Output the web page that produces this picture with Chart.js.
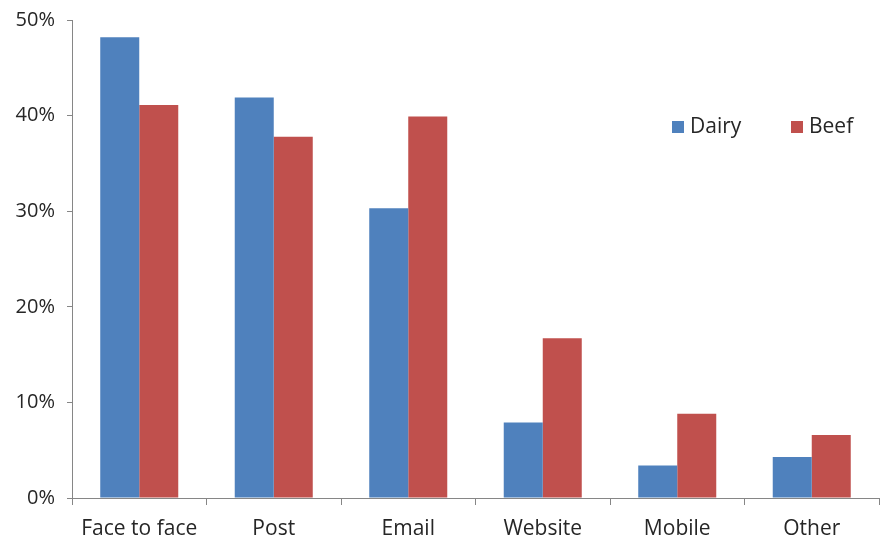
<!DOCTYPE html>
<html>
<head>
<meta charset="utf-8">
<script src="https://cdn.jsdelivr.net/npm/chart.js@4"></script>
<style>
  html, body { margin: 0; padding: 0; background: #fff; }
  #wrap { width: 883px; height: 538px; }
</style>
</head>
<body>
<div id="wrap"><canvas id="channelChart"></canvas></div>
<script>
const categories = ['Face to face', 'Post', 'Email', 'Website', 'Mobile', 'Other'];
const dairyValues = [48.2, 41.9, 30.3, 7.9, 3.4, 4.3];
const beefValues = [41.1, 37.8, 39.9, 16.7, 8.8, 6.6];
const yTicks = [0, 10, 20, 30, 40, 50];

const axisColor = '#868686';
const textColor = '#262626';
const fontFamily = '"Open Sans", sans-serif';

// legend drawn inside the plot, top right
const innerLegend = {
    id: 'innerLegend',
    afterDraw(chart) {
        const ctx = chart.ctx;
        const area = chart.chartArea;
        const items = chart.data.datasets;
        const xs = [area.left + 600, area.left + 719];
        const y = area.top + 107;
        ctx.save();
        ctx.font = '21px ' + fontFamily;
        ctx.textBaseline = 'middle';
        items.forEach((ds, i) => {
            ctx.fillStyle = ds.backgroundColor;
            ctx.fillRect(xs[i], y - 6, 12, 12);
            ctx.fillStyle = textColor;
            ctx.fillText(ds.label, xs[i] + 18, y);
        });
        ctx.restore();
    }
};

const ctx = document.getElementById('channelChart').getContext('2d');
new Chart(ctx, {
    type: 'bar',
    data: {
        labels: categories,
        datasets: [
            { label: 'Dairy', data: dairyValues, backgroundColor: '#4F81BD' },
            { label: 'Beef', data: beefValues, backgroundColor: '#C0504D' }
        ]
    },
    options: {
        responsive: true,
        maintainAspectRatio: false,
        animation: false,
        layout: { padding: { top: 20, right: 4, left: 0, bottom: 0 } },
        plugins: { legend: { display: false }, tooltip: { enabled: false } },
        datasets: { bar: { categoryPercentage: 0.58, barPercentage: 1 } },
        scales: {
            x: {
                afterFit: s => { s.height = 40; s.paddingLeft = 0; s.paddingRight = 0; },
                border: { color: axisColor, width: 1 },
                grid: { display: true, drawOnChartArea: false, color: axisColor, tickLength: 7, offset: true },
                ticks: { color: textColor, font: { family: fontFamily, size: 21 }, padding: 11 }
            },
            y: {
                min: 0,
                max: 50,
                afterFit: s => { s.width = 72; s.paddingTop = 0; s.paddingBottom = 0; },
                afterBuildTicks: s => { s.ticks = yTicks.map(v => ({ value: v })); },
                border: { color: axisColor, width: 1 },
                grid: { display: true, drawOnChartArea: false, color: axisColor, tickLength: 5 },
                ticks: {
                    color: textColor,
                    font: { family: fontFamily, size: 20 },
                    padding: 12,
                    callback: v => v + '%'
                }
            }
        }
    },
    plugins: [innerLegend]
});
</script>
</body>
</html>
